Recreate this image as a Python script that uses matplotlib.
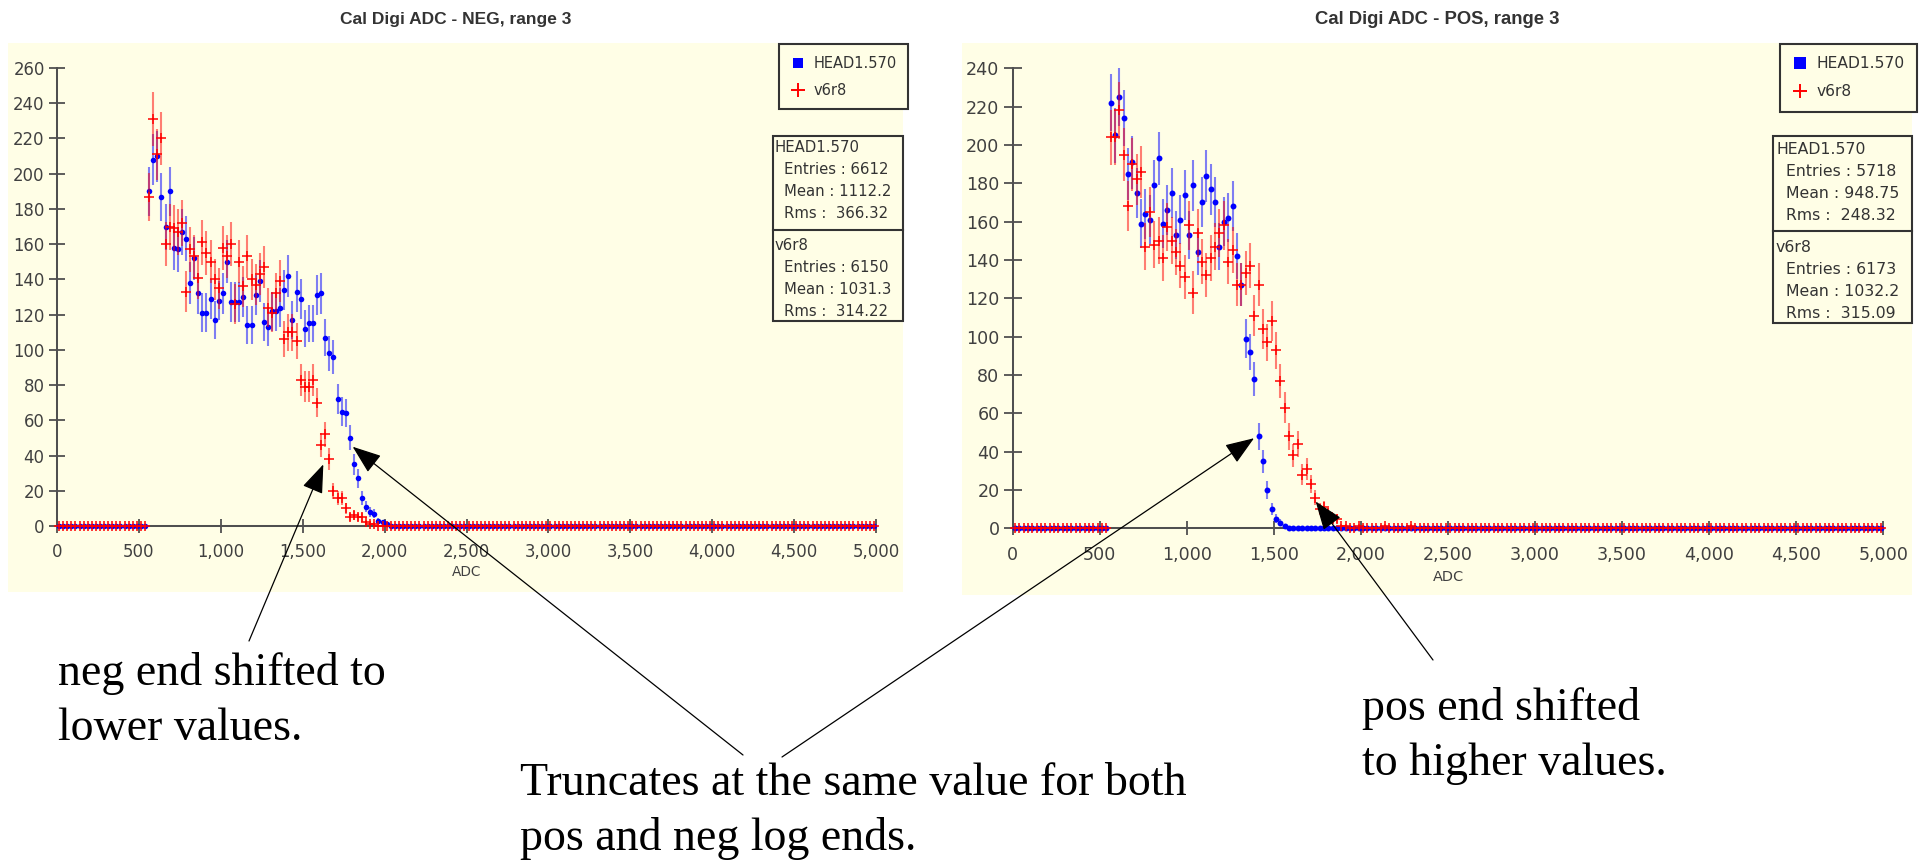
import numpy as np
import matplotlib
matplotlib.use("Agg")
import matplotlib.pyplot as plt
from matplotlib.patches import Rectangle
from matplotlib.lines import Line2D

# ------------------------------------------------------------------ data
BIN_WIDTH = 25
ADC_MAX = 5000
FIRST_FILLED_EDGE = 550          # lower edge of first non-empty bin

# counts per 25-ADC bin, starting at ADC 550 (all other bins are empty)
neg_head = [190, 208, 210, 187, 170, 190, 158, 157, 167, 163, 138, 152, 132, 121, 121,
            129, 117, 128, 132, 150, 127, 127, 127, 130, 114, 114, 131, 139, 116, 113,
            122, 122, 124, 134, 142, 117, 133, 129, 112, 115, 115, 131, 132, 107, 98,
            96, 72, 65, 64, 50, 35, 27, 16, 11, 8, 7, 3, 2, 1]
neg_v6r8 = [187, 231, 211, 220, 160, 170, 169, 167, 172, 133, 157, 153, 141, 161, 155,
            150, 140, 135, 158, 153, 160, 126, 150, 136, 153, 140, 137, 143, 147, 124,
            121, 132, 139, 106, 110, 110, 105, 83, 79, 79, 83, 70, 46, 52, 38,
            20, 16, 16, 10, 5, 6, 5, 5, 2, 1, 1]
pos_head = [222, 205, 225, 214, 185, 191, 175, 159, 164, 161, 179, 193, 159, 166, 175,
            153, 161, 174, 153, 179, 144, 170, 184, 177, 170, 147, 160, 162, 168, 142,
            127, 99, 92, 78, 48, 35, 20, 10, 5, 3, 1]
pos_v6r8 = [204, 204, 218, 195, 168, 190, 182, 186, 147, 165, 148, 150, 141, 157, 150,
            144, 137, 131, 158, 123, 154, 139, 132, 141, 147, 154, 158, 139, 145, 127,
            127, 133, 137, 111, 127, 104, 97, 108, 93, 77, 63, 48, 38, 44, 28,
            31, 23, 16, 10, 11, 8, 5, 5, 1, 1, 0, 0, 1, 0, 0,
            0, 0, 0, 1, 0, 0, 0, 0, 0, 1]

series_labels = ["HEAD1.570", "v6r8"]
titles = ["Cal Digi ADC - NEG, range 3", "Cal Digi ADC - POS, range 3"]
x_label = "ADC"
x_ticks = [0, 500, 1000, 1500, 2000, 2500, 3000, 3500, 4000, 4500, 5000]
x_tick_labels = ["0", "500", "1,000", "1,500", "2,000", "2,500", "3,000",
                 "3,500", "4,000", "4,500", "5,000"]
neg_y_ticks = [0, 20, 40, 60, 80, 100, 120, 140, 160, 180, 200, 220, 240, 260]
pos_y_ticks = [0, 20, 40, 60, 80, 100, 120, 140, 160, 180, 200, 220, 240]

neg_stats = [("HEAD1.570", "6612", "1112.2", "366.32"), ("v6r8", "6150", "1031.3", "314.22")]
pos_stats = [("HEAD1.570", "5718", "948.75", "248.32"), ("v6r8", "6173", "1032.2", "315.09")]

notes = ["neg end shifted to\nlower values.",
         "Truncates at the same value for both\npos and neg log ends.",
         "pos end shifted\nto higher values."]
# arrow tips in data coordinates (panel, ADC, counts)
arrow_tips = [(0, 1626, 35), (0, 1805, 45), (1, 1386, 47), (1, 1740, 14)]

# ------------------------------------------------------------------ figure
W, H = 1927, 860
DPI = 100
fig = plt.figure(figsize=(W / DPI, H / DPI), dpi=DPI)
fig.patch.set_facecolor("white")


def fx(x):
    return x / W


def fy(y):
    return 1 - y / H


def full_counts(vals):
    c = np.zeros(ADC_MAX // BIN_WIDTH)
    i0 = FIRST_FILLED_EDGE // BIN_WIDTH
    c[i0:i0 + len(vals)] = vals
    return c


centers = np.arange(ADC_MAX // BIN_WIDTH) * BIN_WIDTH + BIN_WIDTH / 2

BG = "#fffee6"
AXC = "#505050"
TXT = "#404040"

panels = [
    dict(bg=(8, 43, 903, 592), ax=(57, 68, 876, 526), yticks=neg_y_ticks,
         title=titles[0], tx=456, ty=24, s=1.0, leg=(779, 44),
         sbox=(773, 136, 903, 321), sdiv=230, sx=(775, 784),
         sy=[148, 170, 192, 214, 246, 268, 290, 312], stats=neg_stats,
         data=(neg_head, neg_v6r8)),
    dict(bg=(962, 43, 1912, 595), ax=(1012.7, 68.3, 1883.3, 528.3), yticks=pos_y_ticks,
         title=titles[1], tx=1437, ty=24, s=1.063, leg=(1780, 44),
         sbox=(1773, 136, 1912, 323), sdiv=231, sx=(1776, 1786),
         sy=[149, 171, 193, 215, 247, 269, 291, 313], stats=pos_stats,
         data=(pos_head, pos_v6r8)),
]

axes = []
for p in panels:
    s = p["s"]
    x0, y0, x1, y1 = p["bg"]
    fig.add_artist(Rectangle((fx(x0), fy(y1)), fx(x1 - x0), (y1 - y0) / H,
                             transform=fig.transFigure, facecolor=BG,
                             edgecolor="none", zorder=-10))
    a0, a1, a2, a3 = p["ax"]
    ax = fig.add_axes([fx(a0), fy(a3), fx(a2 - a0), (a3 - a1) / H])
    ax.patch.set_visible(False)
    ax.set_xlim(0, ADC_MAX)
    ax.set_ylim(0, p["yticks"][-1])
    for side in ("top", "right"):
        ax.spines[side].set_visible(False)
    for side in ("left", "bottom"):
        ax.spines[side].set_color(AXC)
        ax.spines[side].set_linewidth(1.45)
    ax.set_xticks(x_ticks)
    ax.set_xticklabels(x_tick_labels)
    ax.set_yticks(p["yticks"])
    ax.tick_params(axis="x", direction="inout", length=10 * s, width=1.3,
                   color=AXC, labelcolor=TXT, labelsize=11.9 * s, pad=7.0 * s)
    ax.tick_params(axis="y", direction="inout", length=12.2 * s, width=1.3,
                   color=AXC, labelcolor=TXT, labelsize=11.9 * s, pad=2.8 * s)
    ax.set_xlabel(x_label, fontsize=9.8 * s, color=TXT)
    ax.xaxis.set_label_coords(0.5, -(39 * s) / (a3 - a1))

    head, v6r8 = p["data"]
    c_head = full_counts(head)
    c_v6 = full_counts(v6r8)
    eb1 = ax.errorbar(centers, c_head, yerr=np.sqrt(c_head), fmt="o", ms=4.0 * s,
                      color="#0000ff", mew=0, ecolor=(0, 0, 1, 0.5),
                      elinewidth=1.5, capsize=0, zorder=3)
    eb2 = ax.errorbar(centers, c_v6, yerr=np.sqrt(c_v6), fmt="+", ms=6.6 * s,
                      color="#ff0000", mew=1.1, ecolor=(1, 0, 0, 0.5),
                      elinewidth=1.5, capsize=0, zorder=4)
    for eb in (eb1, eb2):
        for child in eb.get_children():
            child.set_clip_on(False)

    fig.text(fx(p["tx"]), fy(p["ty"]), p["title"], ha="center", va="baseline",
             fontsize=12.5 * s, fontweight="bold", color="#333333",
             family="Liberation Sans")

    handles = [Line2D([], [], marker="s", color="#0000ff", ls="none", ms=7.5 * s, mew=0),
               Line2D([], [], marker="+", color="#ff0000", ls="none", ms=10 * s, mew=1.4)]
    leg = ax.legend(handles, series_labels, loc="upper left",
                    bbox_to_anchor=(fx(p["leg"][0]), fy(p["leg"][1])),
                    bbox_transform=fig.transFigure, borderaxespad=0,
                    fontsize=10.5 * s, frameon=True, fancybox=False,
                    edgecolor="#333333", facecolor=BG, framealpha=1,
                    borderpad=0.8, handlelength=1.0, handletextpad=0.55,
                    labelspacing=0.82)
    leg.get_frame().set_linewidth(1.5)
    for t in leg.get_texts():
        t.set_color("#333333")

    b0, b1, b2, b3 = p["sbox"]
    fig.add_artist(Rectangle((fx(b0), fy(b3)), fx(b2 - b0), (b3 - b1) / H,
                             transform=fig.transFigure, facecolor=BG,
                             edgecolor="#333333", lw=1.5, zorder=5))
    fig.add_artist(Line2D([fx(b0), fx(b2)], [fy(p["sdiv"]), fy(p["sdiv"])],
                          transform=fig.transFigure, color="#333333", lw=1.5, zorder=6))
    lines = []
    for name, ent, mean, rms in p["stats"]:
        lines += [(name, 0), ("Entries : " + ent, 1), ("Mean : " + mean, 1),
                  ("Rms :  " + rms, 1)]
    for (txt, indent), yy in zip(lines, p["sy"]):
        fig.text(fx(p["sx"][indent]), fy(yy), txt, ha="left", va="center",
                 fontsize=10.7 * s, color="#333333", zorder=7)
    axes.append(ax)

# ------------------------------------------------------------------ notes
serif = "Liberation Serif"
# y positions are the baseline of the last line of each note
note_pos = [(58, 740), (520, 850), (1362, 775)]
for txt, (nx, ny) in zip(notes, note_pos):
    fig.text(fx(nx), fy(ny), txt, family=serif, fontsize=33, va="baseline",
             ha="left", linespacing=1.375, color="black")

tails = [(249, 641), (743, 755), (782, 757), (1433, 660)]
for (pi, ax_x, ax_y), (tx, ty) in zip(arrow_tips, tails):
    axes[pi].annotate("", xy=(ax_x, ax_y), xycoords="data",
                      xytext=(tx, H - ty), textcoords="figure pixels",
                      arrowprops=dict(arrowstyle="-|>,head_length=18,head_width=6.7",
                                      mutation_scale=1, lw=0.9, color="black",
                                      shrinkA=0, shrinkB=0),
                      annotation_clip=False, zorder=8)

fig.savefig("out.png", dpi=DPI, facecolor="white")
